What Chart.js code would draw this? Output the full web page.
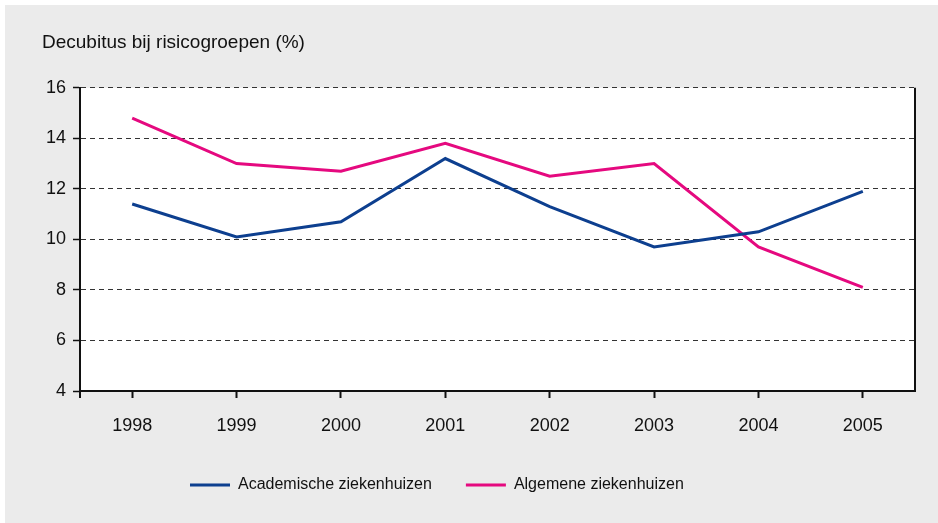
<!DOCTYPE html>
<html>
<head>
<meta charset="utf-8">
<script src="https://cdn.jsdelivr.net/npm/chart.js@4/dist/chart.umd.min.js"></script>
<style>
  html, body { margin: 0; padding: 0; background: #ffffff; }
  #wrap { width: 938px; height: 523px; }
</style>
</head>
<body>
<div id="wrap"><canvas id="c" width="938" height="523"></canvas></div>
<script>
const years = ['1998', '1999', '2000', '2001', '2002', '2003', '2004', '2005'];
const academisch = [11.4, 10.1, 10.7, 13.2, 11.3, 9.7, 10.3, 11.9];
const algemeen = [14.8, 13.0, 12.7, 13.8, 12.5, 13.0, 9.7, 8.1];
const seriesNames = ['Academische ziekenhuizen', 'Algemene ziekenhuizen'];
const yTitle = 'Decubitus bij risicogroepen (%)';

const FONT = "'Liberation Sans', Arial, sans-serif";
const BLUE = '#0d3f8f';
const PINK = '#e5097f';

const bgPlugin = {
  id: 'bg',
  beforeDraw(chart) {
    const ctx = chart.ctx;
    const a = chart.chartArea;
    ctx.save();
    ctx.fillStyle = '#ffffff';
    ctx.fillRect(0, 0, chart.width, chart.height);
    ctx.fillStyle = '#ebebeb';
    ctx.fillRect(5, 5, chart.width - 5, chart.height - 5);
    ctx.fillStyle = '#ffffff';
    ctx.fillRect(a.left, a.top, a.right - a.left, a.bottom - a.top);
    ctx.restore();
    if (chart.legend) {
      chart.legend.left = 156;
    }
  },
  afterDatasetsDraw(chart) {
    const ctx = chart.ctx;
    const a = chart.chartArea;
    ctx.save();
    ctx.strokeStyle = '#111111';
    ctx.lineWidth = 2;
    ctx.beginPath();
    ctx.moveTo(a.right, a.top);
    ctx.lineTo(a.right, a.bottom);
    ctx.moveTo(a.left, a.bottom);
    ctx.lineTo(a.left, a.bottom + 7);
    ctx.stroke();
    ctx.restore();
  }
};

new Chart(document.getElementById('c'), {
  type: 'line',
  data: {
    labels: years,
    datasets: [
      { label: seriesNames[0], data: academisch, borderColor: BLUE, backgroundColor: BLUE, borderWidth: 3, pointRadius: 0, tension: 0 },
      { label: seriesNames[1], data: algemeen, borderColor: PINK, backgroundColor: PINK, borderWidth: 3, pointRadius: 0, tension: 0 }
    ]
  },
  options: {
    responsive: false,
    animation: false,
    layout: { padding: { left: 42, right: 23, top: 0, bottom: 20 } },
    plugins: {
      tooltip: { enabled: false },
      title: {
        display: true,
        text: yTitle,
        align: 'start',
        color: '#111111',
        font: { family: FONT, size: 19, weight: 'normal' },
        padding: { top: 31, bottom: 34 }
      },
      legend: {
        position: 'bottom',
        align: 'start',
        labels: {
          color: '#111111',
          font: { family: FONT, size: 16 },
          boxWidth: 40,
          boxHeight: 3,
          padding: 34,
          generateLabels(chart) {
            return Chart.defaults.plugins.legend.labels.generateLabels(chart).map(
              (l) => Object.assign(l, { strokeStyle: 'rgba(0,0,0,0)', lineWidth: 0 })
            );
          }
        }
      }
    },
    scales: {
      x: {
        offset: true,
        grid: { display: true, drawOnChartArea: false, offset: false, tickLength: 7, tickColor: '#111111', tickWidth: 2 },
        border: { display: true, color: '#111111', width: 2 },
        ticks: { color: '#111111', font: { family: FONT, size: 18 }, padding: 17, maxRotation: 0 },
        afterFit(scale) { scale.height = 52; }
      },
      y: {
        min: 4,
        max: 16,
        ticks: { stepSize: 2, color: '#111111', font: { family: FONT, size: 18 }, padding: 7 },
        grid: { color: '#333333', lineWidth: 1, tickLength: 7, tickColor: '#111111', tickWidth: 1.5 },
        border: { display: true, color: '#111111', width: 2, dash: [5, 4] },
        afterFit(scale) { scale.width = 38; }
      }
    }
  },
  plugins: [bgPlugin]
});
</script>
</body>
</html>
